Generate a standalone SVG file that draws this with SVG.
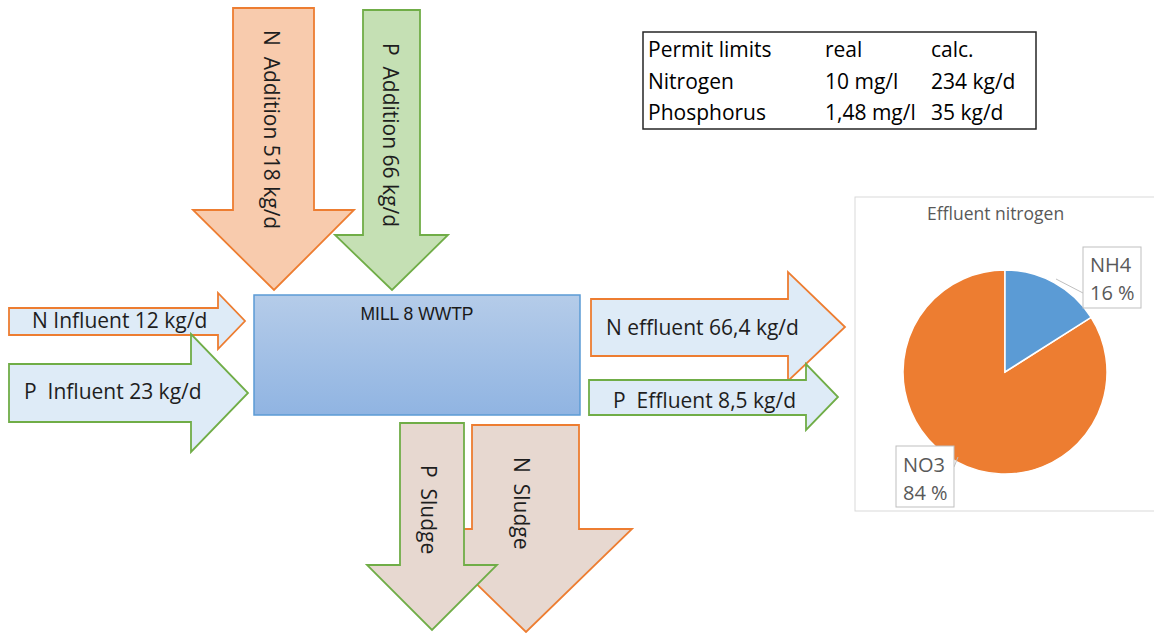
<svg xmlns="http://www.w3.org/2000/svg" width="1154" height="633" viewBox="0 0 1154 633">
  <defs>
    <linearGradient id="plantFill" x1="0" y1="0" x2="0" y2="1">
      <stop offset="0" stop-color="#b5cce9"/>
      <stop offset="1" stop-color="#90b4e2"/>
    </linearGradient>
    <style>
      .lbl { font-family: "Open Sans", "Liberation Sans", sans-serif; font-size: 21px; fill: #1e1e1e; }
      .tbl { font-family: "Open Sans", "Liberation Sans", sans-serif; font-size: 21px; fill: #000000; }
      .pie { font-family: "Open Sans", "Liberation Sans", sans-serif; font-size: 20px; fill: #595959; }
      .ttl { font-family: "Open Sans", "Liberation Sans", sans-serif; font-size: 17.5px; fill: #595959; }
      .n-add { fill: #f8cbad; stroke: #ed7d31; stroke-width: 1.8; stroke-linejoin: miter; }
      .p-add { fill: #c5e0b4; stroke: #70ad47; stroke-width: 1.8; }
      .n-flow { fill: #deebf7; stroke: #ed7d31; stroke-width: 1.8; }
      .p-flow { fill: #deebf7; stroke: #70ad47; stroke-width: 1.8; }
      .n-sludge { fill: #e7d8d0; stroke: #ed7d31; stroke-width: 1.8; }
      .p-sludge { fill: #e7d8d0; stroke: #70ad47; stroke-width: 1.8; }
      .leader { fill: none; stroke: #bfbfbf; stroke-width: 1; }
      .tag { fill: #ffffff; stroke: #bfbfbf; stroke-width: 1; }
    </style>
  </defs>

  <rect width="1154" height="633" fill="#ffffff"/>

  <!-- nutrient additions (top) -->
  <g id="n-addition">
    <polygon class="n-add" points="233,8 314,8 314,210 354,210 274,290 193,210 233,210"/>
    <text class="lbl" xml:space="preserve" transform="translate(264,30) rotate(90)">N  Addition 518 kg/d</text>
  </g>
  <g id="p-addition">
    <polygon class="p-add" points="363,10 420,10 420,235 448,235 392,290 335,235 363,235"/>
    <text class="lbl" xml:space="preserve" transform="translate(383,43) rotate(90)">P  Addition 66 kg/d</text>
  </g>

  <!-- influents (left) -->
  <g id="n-influent">
    <polygon class="n-flow" points="9,308 218,308 218,293 245,321 218,349 218,335 9,335"/>
    <text class="lbl" x="32" y="328">N Influent 12 kg/d</text>
  </g>
  <g id="p-influent">
    <polygon class="p-flow" points="9,364 191,364 191,334 248,393 191,452 191,422 9,422"/>
    <text class="lbl" xml:space="preserve" x="24" y="399">P  Influent 23 kg/d</text>
  </g>

  <!-- treatment plant -->
  <g id="wwtp">
    <rect x="254" y="295" width="326" height="120" fill="url(#plantFill)" stroke="#5b9bd5" stroke-width="1.5"/>
    <text x="417" y="320" text-anchor="middle" font-family="Liberation Sans, Arial, sans-serif" font-size="17.5" fill="#1a1a1a">MILL 8 WWTP</text>
  </g>

  <!-- effluents (right) -->
  <g id="n-effluent">
    <polygon class="n-flow" points="591,299 788,299 788,272 845,327 788,381 788,356 591,356"/>
    <text class="lbl" x="606" y="335">N effluent 66,4 kg/d</text>
  </g>
  <g id="p-effluent">
    <polygon class="p-flow" points="589,380 806,380 806,364 838,397 806,430 806,415 589,415"/>
    <text class="lbl" xml:space="preserve" x="613" y="408">P  Effluent 8,5 kg/d</text>
  </g>

  <!-- sludge (bottom) -->
  <g id="n-sludge">
    <polygon class="n-sludge" points="472,425 579,425 579,529 632,529 526,632 420,529 472,529"/>
    <text class="lbl" xml:space="preserve" transform="translate(514,457) rotate(90)">N  Sludge</text>
  </g>
  <g id="p-sludge">
    <polygon class="p-sludge" points="400,423 464,423 464,565 497,565 432,630 367,565 400,565"/>
    <text class="lbl" xml:space="preserve" transform="translate(421,465) rotate(90)">P  Sludge</text>
  </g>

  <!-- permit limit table -->
  <g id="permit-table">
    <rect x="643" y="32" width="393" height="97" fill="#ffffff" stroke="#262626" stroke-width="1.5"/>
    <text class="tbl" x="648" y="57">Permit limits</text>
    <text class="tbl" x="825" y="57">real</text>
    <text class="tbl" x="931" y="57">calc.</text>
    <text class="tbl" x="648" y="89">Nitrogen</text>
    <text class="tbl" x="825" y="89">10 mg/l</text>
    <text class="tbl" x="931" y="89">234 kg/d</text>
    <text class="tbl" x="648" y="120">Phosphorus</text>
    <text class="tbl" x="825" y="120">1,48 mg/l</text>
    <text class="tbl" x="931" y="120">35 kg/d</text>
  </g>

  <!-- effluent nitrogen pie chart -->
  <g id="effluent-chart">
    <rect x="855" y="197" width="310" height="314" fill="#ffffff" stroke="#d9d9d9" stroke-width="1"/>
    <text class="ttl" x="927" y="220">Effluent nitrogen</text>
    <path d="M1005,372 L1091.1,317.3 A102,102 0 1,1 1005,270 Z" fill="#ed7d31" stroke="#ffffff" stroke-width="1.5"/>
    <path d="M1005,372 L1005,270 A102,102 0 0,1 1091.1,317.3 Z" fill="#5b9bd5" stroke="#ffffff" stroke-width="1.5"/>
  </g>

  <!-- label leader lines -->
  <g id="connectors">
    <path class="leader" d="M1083,293 L1056,279"/>
    <path class="leader" d="M954,467 L958,457"/>
  </g>

  <g id="label-nh4">
    <rect class="tag" x="1083" y="247" width="58" height="61"/>
    <text class="pie" x="1090" y="272">NH4</text>
    <text class="pie" x="1090" y="300">16 %</text>
  </g>
  <g id="label-no3">
    <rect class="tag" x="896" y="446" width="58" height="61"/>
    <text class="pie" x="903" y="472">NO3</text>
    <text class="pie" x="903" y="500">84 %</text>
  </g>
</svg>
